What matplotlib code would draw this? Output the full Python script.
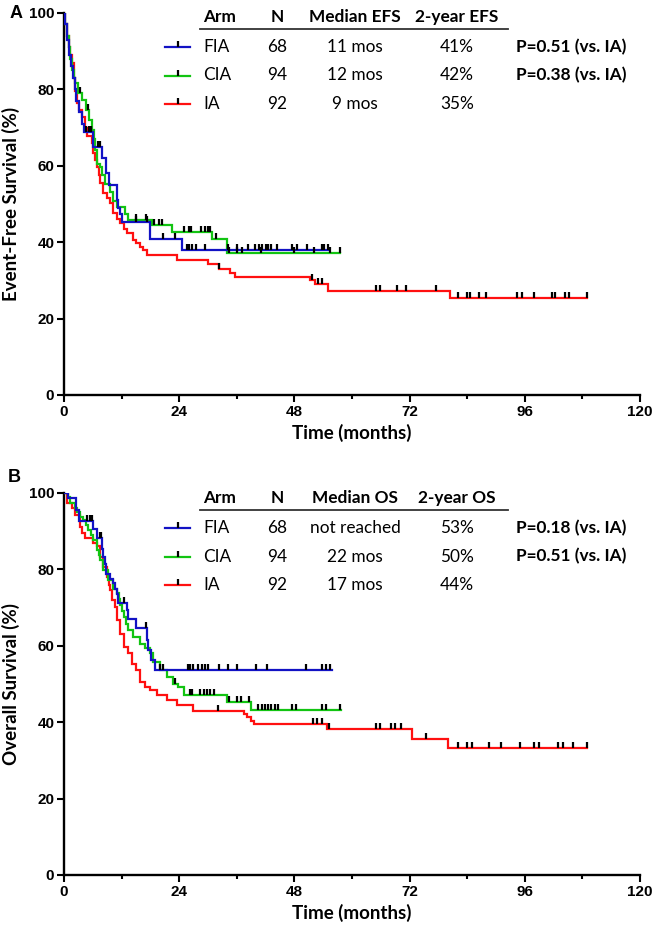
import numpy as np
import matplotlib
matplotlib.use('Agg')
import matplotlib.pyplot as plt
from matplotlib.lines import Line2D

# ---------------- data ----------------
# Panel A : Event-free survival (step times in months, survival % after step)
efs_fia_t = [0.3, 0.7, 1.0, 1.4, 1.9, 2.3, 2.6, 3.1, 3.7, 4.2, 6.0, 8.0, 8.7, 9.4, 11.0, 11.3, 11.7, 12.0, 17.9, 24.5]
efs_fia_s = [97, 93, 89, 86, 83, 80, 77, 74, 71, 68.9, 65, 62, 58, 55, 51, 49, 47.5, 45.3, 40.8, 38.0]
efs_fia_end = 55.0
efs_fia_cens = [4.6, 5.3, 5.6, 7.0, 7.4, 15.1, 17.2, 20.7, 23.1, 25.7, 26.1, 26.6, 27.6, 29.4, 34.2, 36.0,
                38.4, 39.8, 40.6, 41.3, 42.0, 42.4, 43.1, 44.3, 47.4, 48.5, 50.6, 53.7, 54.2, 55.0]

efs_cia_t = [0.3, 0.6, 1.0, 1.3, 1.6, 2.0, 2.3, 3.0, 3.7, 4.5, 5.2, 5.8, 6.2, 6.5, 6.8, 7.5, 8.0, 8.5, 9.6,
             10.3, 11.0, 12.7, 13.4, 18.3, 22.4, 30.8, 33.9]
efs_cia_s = [97, 94, 91, 88, 85, 83, 81.6, 79, 77.2, 74.6, 72, 69.4, 67, 64.1, 60.6, 59.7, 57.5, 55.3, 53.1,
             50.9, 49.2, 47.5, 45.8, 44.5, 42.8, 40.8, 37.2]
efs_cia_end = 57.6
efs_cia_cens = [3.4, 5.0, 15.0, 17.0, 18.8, 19.8, 20.5, 25.0, 26.0, 26.4, 28.6, 29.3, 30.0, 30.5, 31.7,
                34.4, 36.0, 37.0, 41.0, 48.0, 52.0, 55.5, 57.6]

efs_ia_t = [0.3, 0.6, 1.0, 1.3, 1.6, 2.0, 2.3, 2.7, 3.2, 3.7, 4.3, 4.8, 5.8, 6.1, 6.5, 6.8, 7.2, 7.5, 8.2,
            9.0, 9.6, 10.3, 11.0, 11.7, 12.4, 13.1, 14.4, 15.1, 15.8, 16.5, 17.2, 23.5, 30.1, 32.2, 34.6,
            35.6, 51.2, 52.3, 55.1, 80.4]
efs_ia_s = [97, 94, 91, 89, 86.8, 83, 79.5, 76.4, 74.5, 72.9, 70, 67.7, 65.9, 63.3, 61.5, 59.8, 57.5, 55.4,
            52.8, 51.5, 50.2, 47.6, 46.2, 44.9, 43.5, 42.3, 40.6, 39.7, 38.8, 38.0, 36.6, 35.3, 34.3, 33.1,
            32.0, 30.8, 30.1, 29.1, 27.3, 25.5]
efs_ia_end = 109.0
efs_ia_cens = [32.2, 51.6, 53.0, 53.7, 65.1, 65.8, 69.3, 71.2, 77.5, 82.0, 83.9, 84.6, 86.5, 87.9, 94.4,
               95.5, 98.0, 101.7, 102.2, 104.4, 105.3, 109.0]

# Panel B : Overall survival
os_fia_t = [0.8, 2.6, 3.2, 6.1, 6.8, 7.9, 8.2, 8.5, 8.8, 9.6, 10.3, 10.6, 11.0, 11.3, 13.1, 13.4, 15.1,
            17.2, 17.6, 18.2, 18.9]
os_fia_s = [98.6, 95.6, 92.6, 90.6, 88.1, 85.3, 83.3, 81.3, 78.7, 77.5, 76.5, 74.8, 73.5, 71.3, 69.5,
            66.9, 64.7, 61.5, 58.8, 56.2, 53.6]
os_fia_end = 55.8
os_fia_cens = [4.7, 5.4, 5.8, 7.4, 7.7, 12.5, 17.0, 20.0, 20.7, 25.9, 26.3, 26.9, 28.0, 28.7, 29.4, 30.1,
               32.3, 34.2, 36.1, 39.9, 42.3, 50.4, 53.8, 54.5, 55.4]

os_cia_t = [0.8, 1.3, 2.3, 2.8, 3.3, 4.0, 4.6, 5.1, 5.6, 6.1, 6.8, 7.2, 7.5, 8.2, 9.2, 10.3, 11.0, 11.4,
            11.7, 12.0, 12.4, 13.0, 13.4, 14.4, 15.8, 16.9, 17.9, 18.6, 20.0, 21.4, 22.8, 23.8, 24.9,
            34.0, 38.9]
os_cia_s = [98.9, 97.5, 96, 95, 93.8, 92.9, 91.5, 90.3, 89, 87.7, 85.1, 83.7, 82.4, 79.8, 77.2, 75, 73.7,
            72.2, 70.7, 69.1, 67.6, 65.8, 64.1, 62.4, 60.6, 59.3, 58, 55.8, 53.6, 51.8, 50.1, 49.2, 47.2,
            45.3, 43.1]
os_cia_end = 57.8
os_cia_cens = [23.1, 26.2, 26.6, 28.4, 29.1, 29.8, 30.5, 31.2, 34.4, 36.1, 36.8, 38.5, 40.5, 41.2, 41.9,
               42.6, 43.2, 43.9, 44.6, 47.4, 48.3, 53.7, 54.6, 57.5]

os_ia_t = [0.6, 1.6, 2.3, 3.3, 3.8, 4.4, 6.1, 6.8, 7.4, 8.2, 8.9, 9.3, 9.6, 9.9, 10.6, 11.0, 11.7, 12.4,
           13.4, 14.1, 15.1, 15.8, 16.9, 17.9, 19.3, 21.4, 23.5, 26.9, 37.5, 38.2, 38.9, 39.5, 54.8, 72.5,
           80.0]
os_ia_s = [97.3, 96, 94.2, 91.2, 89.5, 88.1, 87, 86, 83.3, 80.7, 78, 76, 74.5, 71.9, 70.2, 66.7, 63.2,
           59.7, 58, 55.3, 53.6, 50.5, 49.2, 48.4, 47, 45.7, 44.4, 43.0, 42.2, 41.3, 40.4, 39.5, 38.3,
           35.5, 33.2]
os_ia_end = 109.0
os_ia_cens = [32.0, 51.8, 52.8, 53.8, 55.2, 65.1, 65.8, 68.2, 68.9, 70.2, 75.5, 82.0, 84.0, 85.0, 88.5,
              91.0, 95.0, 98.0, 99.0, 103.0, 104.0, 106.0, 109.0]

arms = ["FIA", "CIA", "IA"]
arm_n = ["68", "94", "92"]
efs_median = ["11 mos", "12 mos", "9 mos"]
efs_2yr = ["41%", "42%", "35%"]
os_median = ["not reached", "22 mos", "17 mos"]
os_2yr = ["53%", "50%", "44%"]
efs_p = ["P=0.51 (vs. IA)", "P=0.38 (vs. IA)"]
os_p = ["P=0.18 (vs. IA)", "P=0.51 (vs. IA)"]

x_ticks = [0, 24, 48, 72, 96, 120]
y_ticks = [0, 20, 40, 60, 80, 100]

# ---------------- drawing ----------------
COL = {"FIA": "#1212c4", "CIA": "#12c412", "IA": "#ff1010"}
W, H = 653, 931
fig = plt.figure(figsize=(W / 100, H / 100), dpi=100)

def fx(x):
    return x / W

def fy(y):
    return 1 - y / H

TICK_FONT = ['Liberation Sans', 'DejaVu Sans']
TXT_FONT = ['Lato', 'DejaVu Sans']
cens_marker = [(0, 0), (0, 1)]

def draw_km(ax, t, s, end, cens, color):
    ts = np.array([0.0] + list(t) + [end])
    ss = np.array([100.0] + list(s) + [s[-1]])
    ax.step(ts, ss, where='post', color=color, lw=1.6, zorder=3, solid_joinstyle='miter')
    c = np.array(cens)
    idx = np.searchsorted(ts[:-1], c, side='right') - 1
    ax.plot(c, ss[idx], linestyle='none', marker=cens_marker, ms=8, mew=1.6,
            color='black', zorder=4)

def setup_axes(ax, ylabel):
    ax.set_xlim(0, 120)
    ax.set_ylim(0, 100)
    for sp in ['top', 'right']:
        ax.spines[sp].set_visible(False)
    for sp in ['left', 'bottom']:
        ax.spines[sp].set_linewidth(1.7)
    ax.set_xticks(x_ticks)
    ax.set_xticks(np.arange(12, 120, 24), minor=True)
    ax.set_yticks(y_ticks)
    ax.tick_params(axis='both', which='major', length=5, width=1.5, direction='out', pad=2)
    ax.tick_params(axis='x', which='minor', length=3, width=1.5, direction='out')
    for lab in ax.get_xticklabels() + ax.get_yticklabels():
        lab.set_fontfamily(TICK_FONT)
        lab.set_fontweight('bold')
        lab.set_fontsize(11)
    ax.set_xlabel("Time (months)", fontfamily=TXT_FONT, fontweight='bold', fontsize=13.5, labelpad=4)
    ax.set_ylabel(ylabel, fontfamily=TXT_FONT, fontweight='bold', fontsize=13.5)
    # right edge of the rotated label at ~x=20 px
    ax.yaxis.set_label_coords(-(64 - 20) / 576, 0.5)

def draw_table(top, header_med, header_2y, medians, twoyr, pvals):
    hy = top + 4
    kw = dict(fontfamily=TXT_FONT, fontsize=12.4, va='center', transform=fig.transFigure)
    fig.text(fx(203), fy(hy), "Arm", ha='left', fontweight='bold', **kw)
    fig.text(fx(277), fy(hy), "N", ha='center', fontweight='bold', **kw)
    fig.text(fx(355), fy(hy), header_med, ha='center', fontweight='bold', **kw)
    fig.text(fx(457), fy(hy), header_2y, ha='center', fontweight='bold', **kw)
    fig.add_artist(Line2D([fx(200), fx(508)], [fy(hy + 11.5), fy(hy + 11.5)], color='#333333',
                          lw=1.3, transform=fig.transFigure))
    for i, arm in enumerate(arms):
        ry = hy + 30 + i * 28.5
        fig.add_artist(Line2D([fx(165), fx(190)], [fy(ry), fy(ry)], color=COL[arm], lw=1.6,
                              transform=fig.transFigure))
        fig.add_artist(Line2D([fx(177.5)], [fy(ry)], linestyle='none', marker=cens_marker, ms=8,
                              mew=1.6, color='black', transform=fig.transFigure))
        fig.text(fx(203), fy(ry), arm, ha='left', **kw)
        fig.text(fx(277), fy(ry), arm_n[i], ha='center', **kw)
        fig.text(fx(355), fy(ry), medians[i], ha='center', **kw)
        fig.text(fx(457), fy(ry), twoyr[i], ha='center', **kw)
        if i < 2:
            fig.text(fx(626), fy(ry), pvals[i], ha='right', fontweight='bold', **kw)

# Panel A
axA = fig.add_axes([fx(64), fy(395), fx(640) - fx(64), fy(13) - fy(395)])
draw_km(axA, efs_ia_t, efs_ia_s, efs_ia_end, efs_ia_cens, COL["IA"])
draw_km(axA, efs_cia_t, efs_cia_s, efs_cia_end, efs_cia_cens, COL["CIA"])
draw_km(axA, efs_fia_t, efs_fia_s, efs_fia_end, efs_fia_cens, COL["FIA"])
setup_axes(axA, "Event-Free Survival (%)")
draw_table(13, "Median EFS", "2-year EFS", efs_median, efs_2yr, efs_p)
fig.text(fx(10), fy(14), "A", fontfamily=TICK_FONT, fontweight='bold', fontsize=13, va='center', ha='left')

# Panel B
axB = fig.add_axes([fx(64), fy(875), fx(640) - fx(64), fy(493) - fy(875)])
draw_km(axB, os_ia_t, os_ia_s, os_ia_end, os_ia_cens, COL["IA"])
draw_km(axB, os_cia_t, os_cia_s, os_cia_end, os_cia_cens, COL["CIA"])
draw_km(axB, os_fia_t, os_fia_s, os_fia_end, os_fia_cens, COL["FIA"])
setup_axes(axB, "Overall Survival (%)")
draw_table(494, "Median OS", "2-year OS", os_median, os_2yr, os_p)
fig.text(fx(8), fy(477), "B", fontfamily=TICK_FONT, fontweight='bold', fontsize=13, va='center', ha='left')

fig.savefig("out.png", dpi=100)
